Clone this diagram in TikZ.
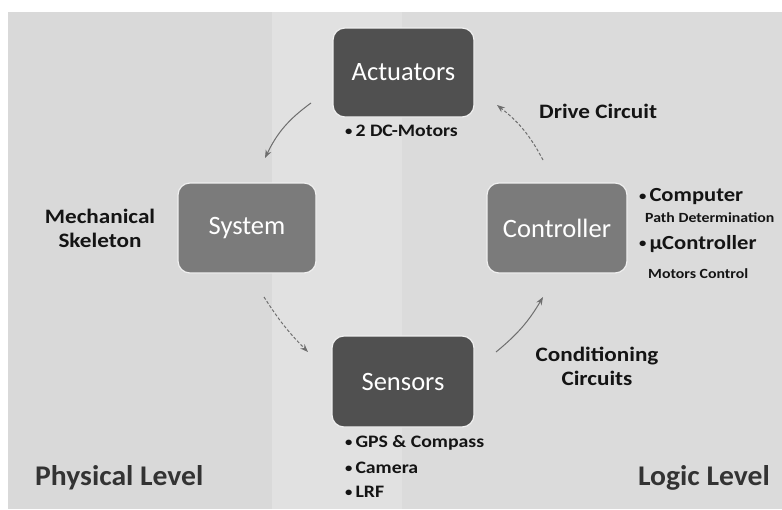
\documentclass[tikz,border=0pt]{standalone}
\usepackage{fontspec}
\setmainfont{Carlito}
\newfontfamily\wb[FakeStretch=1.13]{Carlito}
\newfontfamily\lv[FakeStretch=1.04]{Carlito}
\usetikzlibrary{arrows.meta}
\definecolor{bgL}{HTML}{D9D9D9}
\definecolor{bgM}{HTML}{E1E1E1}
\definecolor{bgR}{HTML}{DBDBDB}
\definecolor{darkbox}{HTML}{505050}
\definecolor{midbox}{HTML}{7B7B7B}
\definecolor{arrowc}{HTML}{6E6E6E}
\definecolor{levelc}{HTML}{333333}
\newcommand{\bt}{{\fontsize{13}{13}\selectfont\raisebox{0.25ex}{•}}\hspace{3pt}}
\tikzset{
  blockbase/.style={rounded corners=12pt, draw=white!88!gray, line width=1.2pt,
    text=white, font=\fontsize{26.5}{30}\selectfont, align=center, inner sep=0pt},
  darkblock/.style={blockbase, fill=darkbox},
  midblock/.style={blockbase, fill=midbox},
  lbl/.style={font=\wb\bfseries\fontsize{20.5}{25}\selectfont, text=black!92, align=center, inner sep=0pt},
  bul/.style={font=\wb\bfseries\fontsize{17.5}{22}\selectfont, text=black!92, anchor=west, inner sep=0pt},
  bigbul/.style={bul, font=\wb\bfseries\fontsize{20}{24}\selectfont},
  tiny/.style={font=\wb\bfseries\fontsize{14}{16}\selectfont, text=black!92, anchor=west, inner sep=0pt},
  level/.style={font=\lv\bfseries\fontsize{28.5}{32}\selectfont, text=levelc, inner sep=0pt},
  flow/.style={draw=arrowc, line width=1pt, -{Stealth[length=8pt,width=6pt]}},
}
\begin{document}
\begin{tikzpicture}[x=1pt,y=-1pt]
\useasboundingbox (0,0) rectangle (782,509);
% background
\fill[white] (0,0) rectangle (782,509);
\fill[bgL] (8,12) rectangle (272,509);
\fill[bgM] (272,12) rectangle (402,509);
\fill[bgR] (402,12) rectangle (782,509);

% blocks
\node[darkblock, minimum width=141pt, minimum height=89pt] (act) at (403.5,72.5) {Actuators};
\node[midblock, minimum width=138pt, minimum height=90pt] (sys) at (247,228) {System};
\node[midblock, minimum width=140pt, minimum height=90pt] (ctl) at (557,228) {Controller};
\node[darkblock, minimum width=142pt, minimum height=91pt] (sen) at (403,381.5) {Sensors};

% labels
\node[bul] (dcm) at (345,131) {\bt 2 DC-Motors};
\node[lbl, anchor=west] (drv) at (539,111) {Drive Circuit};
\node[lbl] (mech) at (100,228) {Mechanical\\[-1pt]Skeleton};
\node[bigbul] (comp) at (639,197) {\bt Computer};
\node[tiny] (path) at (645,218) {Path Determination};
\node[bigbul] (uctl) at (639,244) {\bt µController};
\node[tiny] (motc) at (648,274) {Motors Control};
\node[lbl] (cond) at (597,366) {Conditioning\\[-1pt]Circuits};
\node[bul] (gps) at (345,443) {\bt GPS \& Compass};
\node[bul] (cam) at (345,468) {\bt Camera};
\node[bul] (lrf) at (345,492) {\bt LRF};
\node[level, anchor=west] (phys) at (35,478) {Physical Level};
\node[level, anchor=east] (logic) at (770,478) {Logic Level};

% arrow end points
\coordinate (a1s) at (311,103);
\coordinate (a1e) at (265,158);
\coordinate (a2s) at (264,297);
\coordinate (a2e) at (308,352);
\coordinate (a3s) at (496,352);
\coordinate (a3e) at (543,297);
\coordinate (a4s) at (543,160);
\coordinate (a4e) at (497,105);

\draw[flow] (a1s) to[bend right=14] (a1e);
\draw[flow, densely dashed] (a2s) to[bend right=6] (a2e);
\draw[flow] (a3s) to[bend right=10] (a3e);
\draw[flow, densely dashed] (a4s) to[bend right=12] (a4e);
\end{tikzpicture}
\end{document}
